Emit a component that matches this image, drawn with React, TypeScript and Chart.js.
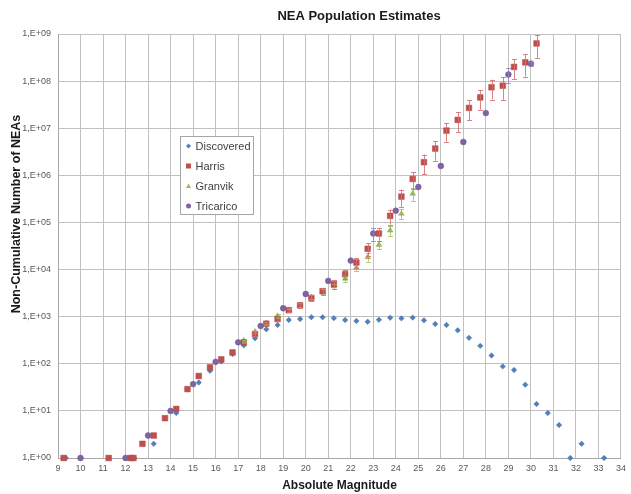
import React, { useEffect, useRef } from 'react';
import { Chart, registerables } from 'chart.js';

Chart.register(...registerables);

const WIDTH = 631;
const HEIGHT = 494;

// Discovered NEAs per half-magnitude bin
const discoveredMag = [
  9.35, 12.38, 13.25, 14.25, 15.25, 15.75, 16.25, 16.75, 17.25, 17.75,
  18.25, 18.75, 19.25, 19.75, 20.25, 20.75, 21.25, 21.75, 22.25, 22.75,
  23.25, 23.75, 24.25, 24.75, 25.25, 25.75, 26.25, 26.75, 27.25, 27.75,
  28.25, 28.75, 29.25, 29.75, 30.25, 30.75, 31.25, 31.75, 32.25, 33.25,
];
const discoveredCount = [
  1, 1, 2, 9, 40, 71, 112, 161, 246, 347,
  540, 665, 850, 890, 975, 975, 930, 850, 810, 780,
  860, 950, 920, 955, 835, 700, 665, 515, 355, 240,
  150, 88, 74, 36, 14, 9, 5, 1, 2, 1,
];

// Harris estimates with relative error
const harrisMag = [
  9.25, 11.25, 12.22, 12.35, 12.75, 13.25, 13.75, 14.25, 14.75, 15.25,
  15.75, 16.25, 16.75, 17.25, 17.75, 18.25, 18.75, 19.25, 19.75, 20.25,
  20.75, 21.25, 21.75, 22.25, 22.75, 23.25, 23.75, 24.25, 24.75, 25.25,
  25.75, 26.25, 26.75, 27.25, 27.75, 28.25, 28.75, 29.25, 29.75, 30.25,
];
const harrisCount = [
  1, 1, 1, 1, 2, 3, 7, 11, 29, 55,
  84, 124, 174, 285, 427, 710, 890, 1370, 1740, 2500,
  3470, 4900, 7960, 14100, 27600, 58300, 138000, 354000, 837000, 1.9e6,
  3.7e6, 8.9e6, 1.5e7, 2.7e7, 4.5e7, 7.4e7, 8.0e7, 2.0e8, 2.5e8, 6.3e8,
];
const harrisErr = [
  0, 0, 0, 0, 0, 0, 0, 0, 0, 0,
  0, 0, 0, 0.05, 0.08, 0.08, 0.1, 0.1, 0.12, 0.15,
  0.18, 0.2, 0.22, 0.25, 0.3, 0.3, 0.35, 0.4, 0.4, 0.45,
  0.45, 0.42, 0.45, 0.45, 0.45, 0.45, 0.5, 0.45, 0.5, 0.5,
];

// Granvik estimates
const granvikMag = [
  17.25, 17.75, 18.25, 18.75, 19.25, 19.75, 20.25, 20.75,
  21.25, 21.75, 22.25, 22.75, 23.25, 23.75, 24.25, 24.75,
];
const granvikCount = [
  309, 480, 720, 1035, 1370, 1740, 2600, 3400,
  4470, 6420, 11000, 18300, 33500, 67600, 154000, 408000,
];
const granvikErr = [
  0.05, 0.05, 0.05, 0.08, 0.08, 0.1, 0.1, 0.12,
  0.12, 0.15, 0.15, 0.2, 0.2, 0.25, 0.25, 0.3,
];

// Tricarico estimates
const tricaricoMag = [
  10, 12, 13, 14, 15, 16, 17, 18, 19, 20,
  21, 22, 23, 24, 25, 26, 27, 28, 29, 30,
];
const tricaricoCount = [
  1, 1, 3, 10, 37, 110, 285, 635, 1510, 3030,
  5740, 15500, 58300, 178000, 565000, 1.58e6, 5.1e6, 2.1e7, 1.38e8, 2.35e8,
];
const tricaricoErr = [
  0, 0, 0, 0, 0, 0, 0, 0, 0, 0,
  0, 0, 0.3, 0, 0, 0, 0, 0, 0.35, 0.1,
];

const yTickValues = [1e0, 1e1, 1e2, 1e3, 1e4, 1e5, 1e6, 1e7, 1e8, 1e9];
const yTickLabels = [
  '1,E+00', '1,E+01', '1,E+02', '1,E+03', '1,E+04',
  '1,E+05', '1,E+06', '1,E+07', '1,E+08', '1,E+09',
];

const seriesNames = ['Discovered', 'Harris', 'Granvik', 'Tricarico'];

const COLORS = {
  blue: '#4f81bd',
  red: '#c0504d',
  green: '#9bbb59',
  purple: '#8064a2',
};

const FONT = '"Liberation Sans", Arial, sans-serif';

const toPoints = (xs: number[], ys: number[]) => xs.map((x, i) => ({ x, y: ys[i] }));

const errorBarPlugin = {
  id: 'errorBars',
  afterDatasetsDraw(chart: any) {
    const { ctx, chartArea, scales } = chart;
    const groups = [
      { mag: granvikMag, val: granvikCount, err: granvikErr, color: 'rgba(155,187,89,0.75)' },
      { mag: harrisMag, val: harrisCount, err: harrisErr, color: 'rgba(212,112,110,0.85)' },
      { mag: tricaricoMag, val: tricaricoCount, err: tricaricoErr, color: 'rgba(150,128,190,0.8)' },
    ];
    ctx.save();
    ctx.beginPath();
    ctx.rect(chartArea.left, chartArea.top - 1, chartArea.right - chartArea.left, chartArea.bottom - chartArea.top + 1);
    ctx.clip();
    ctx.lineWidth = 1;
    for (const g of groups) {
      ctx.strokeStyle = g.color;
      g.mag.forEach((m, i) => {
        const p = g.err[i];
        if (!p) return;
        const v = g.val[i];
        const x = Math.round(scales.x.getPixelForValue(m)) + 0.5;
        const yHi = scales.y.getPixelForValue(v * (1 + p));
        const yLo = scales.y.getPixelForValue(v * (1 - p));
        ctx.beginPath();
        ctx.moveTo(x, yHi);
        ctx.lineTo(x, yLo);
        ctx.moveTo(x - 2.5, Math.round(yHi) + 0.5);
        ctx.lineTo(x + 2.5, Math.round(yHi) + 0.5);
        ctx.moveTo(x - 2.5, Math.round(yLo) + 0.5);
        ctx.lineTo(x + 2.5, Math.round(yLo) + 0.5);
        ctx.stroke();
      });
    }
    ctx.restore();
  },
};

const decorPlugin = {
  id: 'decor',
  afterDraw(chart: any) {
    const { ctx, chartArea } = chart;
    ctx.save();
    // title
    ctx.fillStyle = '#1a1a1a';
    ctx.textAlign = 'center';
    ctx.textBaseline = 'middle';
    ctx.font = `bold 13px ${FONT}`;
    ctx.fillText('NEA Population Estimates', 359, 16);
    // x axis title
    ctx.font = `bold 12px ${FONT}`;
    ctx.fillText('Absolute Magnitude', (chartArea.left + chartArea.right) / 2, 486);
    // y axis title
    ctx.save();
    ctx.translate(17, 214);
    ctx.rotate(-Math.PI / 2);
    ctx.font = `bold 12.5px ${FONT}`;
    ctx.fillText('Non-Cumulative Number of NEAs', 0, 0);
    ctx.restore();

    // legend box
    const bx = 180.5, by = 136.5, bw = 73, bh = 78;
    ctx.fillStyle = '#ffffff';
    ctx.fillRect(bx, by, bw, bh);
    ctx.strokeStyle = '#a6a6a6';
    ctx.lineWidth = 1;
    ctx.strokeRect(bx, by, bw, bh);
    const rowsY = [146, 166, 186, 206];
    ctx.font = `11px ${FONT}`;
    ctx.textAlign = 'left';
    seriesNames.forEach((name, i) => {
      const y = rowsY[i];
      const mx = 188.5;
      ctx.beginPath();
      if (i === 0) {
        ctx.fillStyle = COLORS.blue;
        ctx.moveTo(mx, y - 2.5); ctx.lineTo(mx + 2.5, y); ctx.lineTo(mx, y + 2.5); ctx.lineTo(mx - 2.5, y);
      } else if (i === 1) {
        ctx.fillStyle = COLORS.red;
        ctx.rect(mx - 2.5, y - 2.5, 5, 5);
      } else if (i === 2) {
        ctx.fillStyle = COLORS.green;
        ctx.moveTo(mx, y - 2.5); ctx.lineTo(mx + 2.5, y + 2); ctx.lineTo(mx - 2.5, y + 2);
      } else {
        ctx.fillStyle = COLORS.purple;
        ctx.arc(mx, y, 2.5, 0, Math.PI * 2);
      }
      ctx.closePath();
      ctx.fill();
      ctx.fillStyle = '#404040';
      ctx.fillText(name, 195.5, y + 0.5);
    });
    ctx.restore();
  },
};

export default function App() {
  const canvasRef = useRef<HTMLCanvasElement>(null);

  useEffect(() => {
    const canvas = canvasRef.current;
    if (!canvas) return;
    const tickFont = { family: FONT, size: 9 };
    const chart = new Chart(canvas, {
      type: 'scatter',
      data: {
        datasets: [
          {
            label: seriesNames[0],
            data: toPoints(discoveredMag, discoveredCount),
            pointStyle: 'rectRot',
            pointRadius: 2.7,
            backgroundColor: COLORS.blue,
            borderColor: '#3f6fa8',
            borderWidth: 0.5,
            clip: false,
            order: 4,
          },
          {
            label: seriesNames[1],
            data: toPoints(harrisMag, harrisCount),
            pointStyle: 'rect',
            pointRadius: 4,
            backgroundColor: COLORS.red,
            borderColor: '#b0403d',
            borderWidth: 0.5,
            clip: false,
            order: 2,
          },
          {
            label: seriesNames[2],
            data: toPoints(granvikMag, granvikCount),
            pointStyle: 'triangle',
            pointRadius: 3.2,
            backgroundColor: COLORS.green,
            borderColor: '#86a84a',
            borderWidth: 0.5,
            clip: false,
            order: 3,
          },
          {
            label: seriesNames[3],
            data: toPoints(tricaricoMag, tricaricoCount),
            pointStyle: 'circle',
            pointRadius: 2.9,
            backgroundColor: COLORS.purple,
            borderColor: '#6f5592',
            borderWidth: 0.5,
            clip: false,
            order: 1,
          },
        ],
      },
      options: {
        responsive: false,
        animation: false,
        devicePixelRatio: 1,
        layout: { padding: { top: 34, right: 4, left: 0, bottom: 0 } },
        plugins: {
          legend: { display: false },
          tooltip: { enabled: false },
          title: { display: false },
        },
        scales: {
          x: {
            type: 'linear',
            min: 9,
            max: 34,
            afterFit: (s: any) => { s.height = 36; },
            ticks: {
              stepSize: 1,
              autoSkip: false,
              maxRotation: 0,
              padding: 5,
              color: '#595959',
              font: tickFont,
            },
            grid: { color: '#c0c0c0', lineWidth: 1, drawTicks: false },
            border: { color: '#a6a6a6' },
          },
          y: {
            type: 'logarithmic',
            min: 1,
            max: 1e9,
            afterBuildTicks: (s: any) => {
              s.ticks = yTickValues.map((value) => ({ value }));
            },
            afterFit: (s: any) => { s.width = 58; },
            ticks: {
              padding: 7,
              color: '#595959',
              font: tickFont,
              callback: (v: any) => {
                const i = yTickValues.indexOf(Number(v));
                return i >= 0 ? yTickLabels[i] : '';
              },
            },
            grid: { color: '#c0c0c0', lineWidth: 1, drawTicks: false },
            border: { color: '#a6a6a6' },
          },
        },
      },
      plugins: [errorBarPlugin, decorPlugin],
    } as any);
    return () => chart.destroy();
  }, []);

  return (
    <div style={{ position: 'fixed', left: 0, top: 0, width: WIDTH, height: HEIGHT, background: '#ffffff' }}>
      <canvas ref={canvasRef} width={WIDTH} height={HEIGHT} style={{ display: 'block' }} />
    </div>
  );
}
